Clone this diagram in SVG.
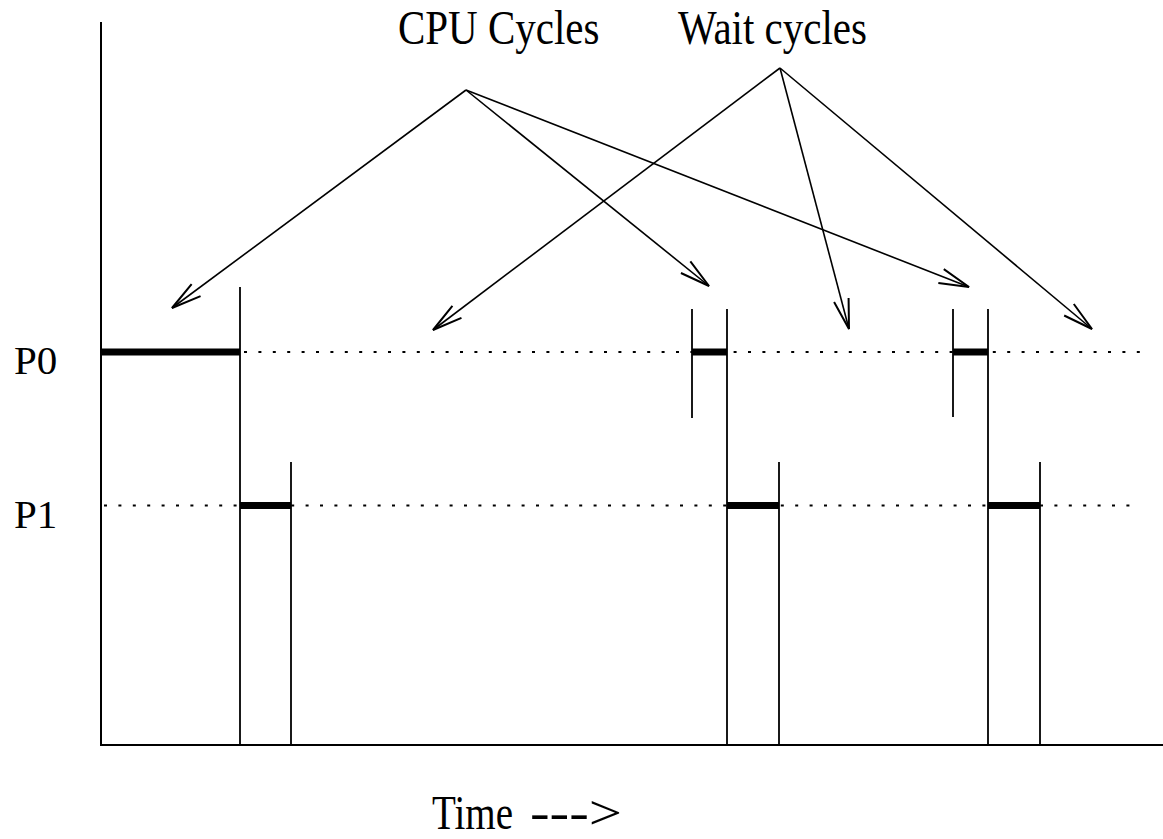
<svg xmlns="http://www.w3.org/2000/svg" width="1163" height="839" viewBox="0 0 1163 839">
<style>
  text { font-family: "Liberation Serif", "Times New Roman", serif; fill: #000; }
  .lbl { font-size: 41px; }
  .axis { stroke: #000; stroke-width: 2; fill: none; }
  .tick { stroke: #000; stroke-width: 1.8; fill: none; }
  .bar { stroke: #000; stroke-width: 7; fill: none; }
  .dots { stroke: #000; stroke-width: 2; stroke-dasharray: 3 11.4; fill: none; }
  .arrow { stroke: #000; stroke-width: 1.6; fill: none; marker-end: url(#head); }
</style>
<defs>
  <marker id="head" markerUnits="userSpaceOnUse" markerWidth="40" markerHeight="24" refX="0" refY="0" viewBox="-32 -12 34 24" orient="auto" overflow="visible">
    <path d="M -30 -7.5 L 0 0 L -30 7.5" fill="none" stroke="#000" stroke-width="2"/>
  </marker>
</defs>
<rect width="1163" height="839" fill="#fff"/>

<g id="axes">
  <line class="axis" x1="101" y1="22" x2="101" y2="746"/>
  <line class="axis" x1="100" y1="745" x2="1163" y2="745"/>
</g>

<g id="label-cpu" transform="translate(0,44) scale(1,1.19)"><text class="lbl" x="398" y="0">CPU Cycles</text></g>
<g id="label-wait" transform="translate(0,44) scale(1,1.19)"><text class="lbl" x="678" y="0">Wait cycles</text></g>
<g id="label-time" transform="translate(0,829) scale(1,1.3)"><text x="432" y="0" style="font-size:38px"><tspan textLength="81" lengthAdjust="spacingAndGlyphs">Time</tspan><tspan x="530" textLength="92" lengthAdjust="spacingAndGlyphs">---&gt;</tspan></text></g>

<g id="P0">
  <text class="lbl" x="14" y="374">P0</text>
  <line class="dots" x1="244" y1="352" x2="1140" y2="352"/>
  <line class="bar" x1="101" y1="352" x2="240" y2="352"/>
  <line class="bar" x1="692" y1="352" x2="727" y2="352"/>
  <line class="bar" x1="953" y1="352" x2="988" y2="352"/>
  <line class="tick" x1="692" y1="309" x2="692" y2="418"/>
  <line class="tick" x1="953" y1="309" x2="953" y2="417"/>
</g>

<g id="P1">
  <text class="lbl" x="14" y="528">P1</text>
  <line class="dots" x1="104" y1="505.5" x2="1140" y2="505.5"/>
  <line class="bar" x1="240" y1="505.5" x2="291" y2="505.5"/>
  <line class="bar" x1="727" y1="505.5" x2="779" y2="505.5"/>
  <line class="bar" x1="988" y1="505.5" x2="1040" y2="505.5"/>
</g>

<g id="switches">
  <line class="tick" x1="240" y1="287" x2="240" y2="745"/>
  <line class="tick" x1="291" y1="462" x2="291" y2="745"/>
  <line class="tick" x1="727" y1="309" x2="727" y2="745"/>
  <line class="tick" x1="779" y1="462" x2="779" y2="745"/>
  <line class="tick" x1="988" y1="309" x2="988" y2="745"/>
  <line class="tick" x1="1040" y1="462" x2="1040" y2="745"/>
</g>

<g id="connectors">
  <line class="arrow" x1="466" y1="90" x2="172" y2="308"/>
  <line class="arrow" x1="466" y1="90" x2="709" y2="286"/>
  <line class="arrow" x1="466" y1="90" x2="969" y2="287"/>
  <line class="arrow" x1="780" y1="68" x2="433" y2="330"/>
  <line class="arrow" x1="780" y1="68" x2="849" y2="329"/>
  <line class="arrow" x1="780" y1="68" x2="1092" y2="329"/>
</g>
</svg>
